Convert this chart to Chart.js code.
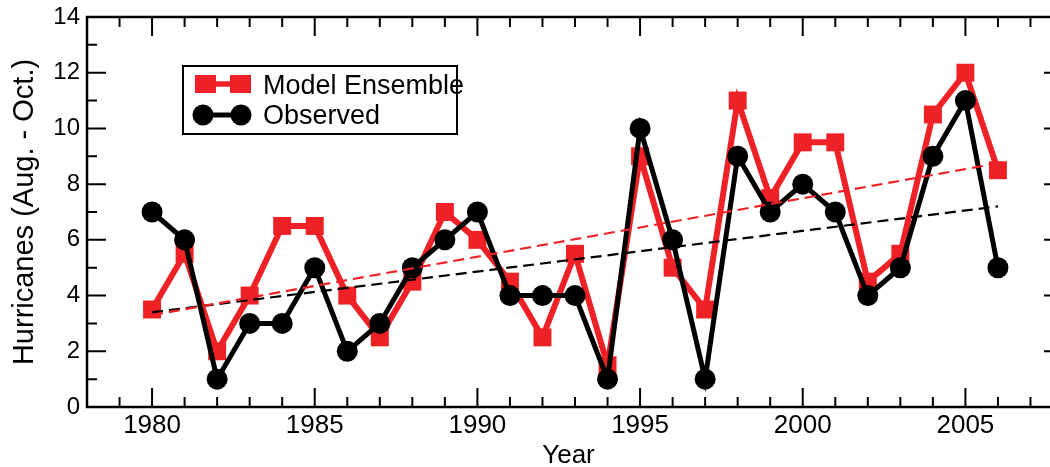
<!DOCTYPE html>
<html>
<head>
<meta charset="utf-8">
<script src="https://cdn.jsdelivr.net/npm/chart.js@4.4.1/dist/chart.umd.min.js"></script>
<style>
  html, body { margin: 0; padding: 0; background: #fff; overflow: hidden; }
  canvas { display: block; }
</style>
</head>
<body>
<canvas id="chart" width="1050" height="467" style="width:1050px;height:467px"></canvas>
<script>
// ── DADOS ───────────────────────────────────────────────────────────────────
const years = [1980, 1981, 1982, 1983, 1984, 1985, 1986, 1987, 1988, 1989,
  1990, 1991, 1992, 1993, 1994, 1995, 1996, 1997, 1998, 1999,
  2000, 2001, 2002, 2003, 2004, 2005, 2006]
const modelEnsemble = [3.5, 5.5, 2, 4, 6.5, 6.5, 4, 2.5, 4.5, 7,
  6, 4.5, 2.5, 5.5, 1.5, 9, 5, 3.5, 11, 7.5,
  9.5, 9.5, 4.5, 5.5, 10.5, 12, 8.5]
const observed = [7, 6, 1, 3, 3, 5, 2, 3, 5, 6,
  7, 4, 4, 4, 1, 10, 6, 1, 9, 7,
  8, 7, 4, 5, 9, 11, 5]
const trendYears = [1980, 2006]
const modelTrend = [3.3, 8.75]
const observedTrend = [3.4, 7.2]
const xTickLabels = [1980, 1985, 1990, 1995, 2000, 2005]
const yTickLabels = [0, 2, 4, 6, 8, 10, 12, 14]

const X_FRAME_MAX = 2008   // borda direita da moldura (fica fora da imagem)
const X_VISIBLE_MAX = 2007.6

const RED = '#ee2226'
const FONT = "'Liberation Sans', Arial, Helvetica, sans-serif"

const pts = (xs, ys) => xs.map((x, i) => ({ x, y: ys[i] }))

// ── MOLDURA COM TICKS PARA DENTRO ───────────────────────────────────────────
const framePlugin = {
  id: 'frame',
  beforeDatasetsDraw(chart) {
    const { ctx, chartArea: a, scales: { x, y } } = chart
    const right = x.getPixelForValue(X_FRAME_MAX)
    ctx.save()
    ctx.strokeStyle = '#000'
    ctx.lineWidth = 2
    ctx.beginPath()
    for (let v = Math.ceil(x.min); v <= X_FRAME_MAX; v++) {
      const px = x.getPixelForValue(v)
      const len = v % 5 === 0 ? 19 : 10
      ctx.moveTo(px, a.bottom); ctx.lineTo(px, a.bottom - len)
      ctx.moveTo(px, a.top); ctx.lineTo(px, a.top + len)
    }
    for (let v = Math.ceil(y.min); v <= y.max; v++) {
      const py = y.getPixelForValue(v)
      const len = v % 2 === 0 ? 19 : 10
      ctx.moveTo(a.left, py); ctx.lineTo(a.left + len, py)
      ctx.moveTo(right, py); ctx.lineTo(right - len, py)
    }
    ctx.stroke()
    ctx.lineWidth = 2.5
    ctx.strokeRect(a.left, a.top, right - a.left, a.bottom - a.top)
    ctx.restore()
  },
  afterDraw(chart) {
    // legenda desenhada à mão, igual à figura original
    const { ctx } = chart
    ctx.save()
    ctx.lineWidth = 2
    ctx.strokeStyle = '#000'
    ctx.strokeRect(183, 66, 274, 68)

    ctx.strokeStyle = RED
    ctx.lineWidth = 5.5
    ctx.beginPath(); ctx.moveTo(200, 84); ctx.lineTo(245, 84); ctx.stroke()
    ctx.fillStyle = RED
    ctx.fillRect(195, 75, 21, 18)
    ctx.fillRect(230, 75, 21, 18)

    ctx.strokeStyle = '#000'
    ctx.lineWidth = 5
    ctx.beginPath(); ctx.moveTo(203, 115); ctx.lineTo(242, 115); ctx.stroke()
    ctx.fillStyle = '#000'
    ctx.beginPath(); ctx.arc(203, 115, 10.5, 0, Math.PI * 2); ctx.fill()
    ctx.beginPath(); ctx.arc(241, 115, 10.5, 0, Math.PI * 2); ctx.fill()

    ctx.font = `27px ${FONT}`
    ctx.textBaseline = 'alphabetic'
    ctx.fillText('Model Ensemble', 263, 94)
    ctx.fillText('Observed', 263, 124)
    ctx.restore()
  }
}

const noPad = s => { s.paddingLeft = 0; s.paddingRight = 0; s.paddingTop = 0; s.paddingBottom = 0 }

new Chart(document.getElementById('chart'), {
  type: 'line',
  data: {
    datasets: [
      {
        label: 'Model trend',
        data: pts(trendYears, modelTrend),
        borderColor: RED,
        borderWidth: 2.2,
        borderDash: [11, 6],
        pointRadius: 0,
        order: 0
      },
      {
        label: 'Observed trend',
        data: pts(trendYears, observedTrend),
        borderColor: '#000',
        borderWidth: 2.2,
        borderDash: [11, 6],
        pointRadius: 0,
        order: 0
      },
      {
        label: 'Observed',
        data: pts(years, observed),
        borderColor: '#000',
        backgroundColor: '#000',
        borderWidth: 5,
        pointStyle: 'circle',
        pointRadius: 10.5,
        pointBorderWidth: 0,
        order: 1
      },
      {
        label: 'Model Ensemble',
        data: pts(years, modelEnsemble),
        borderColor: RED,
        backgroundColor: RED,
        borderWidth: 6,
        pointStyle: 'rect',
        pointRadius: 12.7,
        pointBorderWidth: 0,
        order: 2
      }
    ]
  },
  options: {
    responsive: false,
    animation: false,
    events: [],
    layout: { autoPadding: false, padding: { top: 17, right: 0, left: 0, bottom: 0 } },
    plugins: { legend: { display: false }, tooltip: { enabled: false } },
    scales: {
      x: {
        type: 'linear',
        min: 1978,
        max: X_VISIBLE_MAX,
        grid: { display: false, drawTicks: false },
        border: { display: false },
        afterBuildTicks: s => { s.ticks = xTickLabels.map(v => ({ value: v })) },
        afterFit: s => { s.height = 60; noPad(s) },
        ticks: {
          callback: v => String(v),
          color: '#000',
          padding: 6,
          maxRotation: 0,
          font: { family: FONT, size: 26, lineHeight: 1 }
        },
        title: {
          display: true,
          text: 'Year',
          color: '#000',
          padding: { top: 0, bottom: -2 },
          font: { family: FONT, size: 26, lineHeight: 1 }
        }
      },
      y: {
        min: 0,
        max: 14,
        grid: { display: false, drawTicks: false },
        border: { display: false },
        afterBuildTicks: s => { s.ticks = yTickLabels.map(v => ({ value: v })) },
        afterFit: s => { s.width = 87; noPad(s) },
        ticks: {
          callback: v => String(v),
          color: '#000',
          padding: 7,
          font: { family: FONT, size: 24, lineHeight: 1 }
        },
        title: {
          display: true,
          text: 'Hurricanes (Aug. - Oct.)',
          color: '#000',
          padding: { top: 10, bottom: 0 },
          font: { family: FONT, size: 29, lineHeight: 1 }
        }
      }
    }
  },
  plugins: [framePlugin]
})
</script>
</body>
</html>
